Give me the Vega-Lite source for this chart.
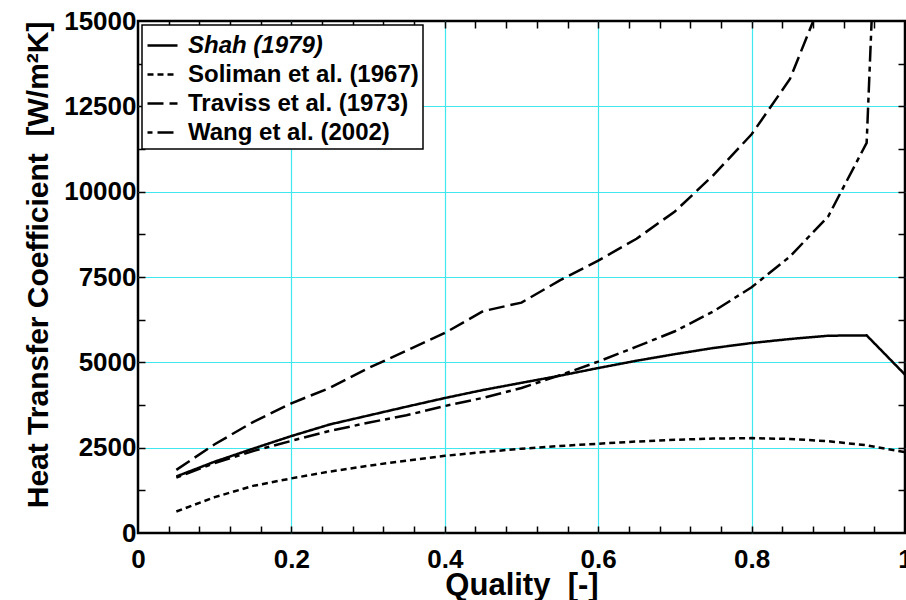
{
  "$schema": "https://vega.github.io/schema/vega-lite/v6.json",
  "width": 767,
  "height": 512,
  "autosize": {"type": "none"},
  "padding": {"left": 138, "top": 21, "right": 1, "bottom": 67},
  "background": "white",
  "config": {
    "view": {"stroke": "black", "strokeWidth": 2.5},
    "font": "Liberation Sans",
    "axis": {
      "labelFont": "Liberation Sans",
      "labelFontWeight": "bold",
      "labelFontSize": 26,
      "labelColor": "black",
      "titleFont": "Liberation Sans",
      "titleFontWeight": "bold",
      "titleFontSize": 31,
      "titleColor": "black",
      "domain": false,
      "tickColor": "black",
      "tickWidth": 1.5,
      "tickSize": 7,
      "gridWidth": 1.2
    }
  },
  "datasets": {
    "curves": [
      {"s": "Shah (1979)", "x": 0.05, "y": 1656},
      {"s": "Shah (1979)", "x": 0.10, "y": 2090},
      {"s": "Shah (1979)", "x": 0.15, "y": 2470},
      {"s": "Shah (1979)", "x": 0.20, "y": 2840},
      {"s": "Shah (1979)", "x": 0.25, "y": 3180},
      {"s": "Shah (1979)", "x": 0.30, "y": 3440},
      {"s": "Shah (1979)", "x": 0.35, "y": 3700},
      {"s": "Shah (1979)", "x": 0.40, "y": 3954},
      {"s": "Shah (1979)", "x": 0.45, "y": 4190},
      {"s": "Shah (1979)", "x": 0.50, "y": 4400},
      {"s": "Shah (1979)", "x": 0.55, "y": 4608},
      {"s": "Shah (1979)", "x": 0.60, "y": 4833},
      {"s": "Shah (1979)", "x": 0.65, "y": 5047},
      {"s": "Shah (1979)", "x": 0.70, "y": 5240},
      {"s": "Shah (1979)", "x": 0.75, "y": 5419},
      {"s": "Shah (1979)", "x": 0.80, "y": 5566},
      {"s": "Shah (1979)", "x": 0.85, "y": 5683},
      {"s": "Shah (1979)", "x": 0.90, "y": 5780},
      {"s": "Shah (1979)", "x": 0.95, "y": 5790},
      {"s": "Shah (1979)", "x": 1.00, "y": 4640},
      {"s": "Soliman et al. (1967)", "x": 0.05, "y": 630},
      {"s": "Soliman et al. (1967)", "x": 0.10, "y": 1050},
      {"s": "Soliman et al. (1967)", "x": 0.15, "y": 1380},
      {"s": "Soliman et al. (1967)", "x": 0.20, "y": 1600},
      {"s": "Soliman et al. (1967)", "x": 0.25, "y": 1800},
      {"s": "Soliman et al. (1967)", "x": 0.30, "y": 1970},
      {"s": "Soliman et al. (1967)", "x": 0.35, "y": 2120},
      {"s": "Soliman et al. (1967)", "x": 0.40, "y": 2260},
      {"s": "Soliman et al. (1967)", "x": 0.45, "y": 2370},
      {"s": "Soliman et al. (1967)", "x": 0.50, "y": 2470},
      {"s": "Soliman et al. (1967)", "x": 0.55, "y": 2550},
      {"s": "Soliman et al. (1967)", "x": 0.60, "y": 2615},
      {"s": "Soliman et al. (1967)", "x": 0.65, "y": 2680},
      {"s": "Soliman et al. (1967)", "x": 0.70, "y": 2730},
      {"s": "Soliman et al. (1967)", "x": 0.75, "y": 2765},
      {"s": "Soliman et al. (1967)", "x": 0.80, "y": 2780},
      {"s": "Soliman et al. (1967)", "x": 0.85, "y": 2755},
      {"s": "Soliman et al. (1967)", "x": 0.90, "y": 2690},
      {"s": "Soliman et al. (1967)", "x": 0.95, "y": 2570},
      {"s": "Soliman et al. (1967)", "x": 1.00, "y": 2370},
      {"s": "Traviss et al. (1973)", "x": 0.05, "y": 1850},
      {"s": "Traviss et al. (1973)", "x": 0.10, "y": 2600},
      {"s": "Traviss et al. (1973)", "x": 0.15, "y": 3250},
      {"s": "Traviss et al. (1973)", "x": 0.20, "y": 3800},
      {"s": "Traviss et al. (1973)", "x": 0.25, "y": 4250},
      {"s": "Traviss et al. (1973)", "x": 0.30, "y": 4830},
      {"s": "Traviss et al. (1973)", "x": 0.35, "y": 5340},
      {"s": "Traviss et al. (1973)", "x": 0.40, "y": 5860},
      {"s": "Traviss et al. (1973)", "x": 0.45, "y": 6500},
      {"s": "Traviss et al. (1973)", "x": 0.50, "y": 6750},
      {"s": "Traviss et al. (1973)", "x": 0.55, "y": 7400},
      {"s": "Traviss et al. (1973)", "x": 0.60, "y": 7980},
      {"s": "Traviss et al. (1973)", "x": 0.65, "y": 8620},
      {"s": "Traviss et al. (1973)", "x": 0.70, "y": 9420},
      {"s": "Traviss et al. (1973)", "x": 0.75, "y": 10480},
      {"s": "Traviss et al. (1973)", "x": 0.80, "y": 11680},
      {"s": "Traviss et al. (1973)", "x": 0.85, "y": 13300},
      {"s": "Traviss et al. (1973)", "x": 0.90, "y": 16100},
      {"s": "Wang et al. (2002)", "x": 0.05, "y": 1620},
      {"s": "Wang et al. (2002)", "x": 0.10, "y": 2050},
      {"s": "Wang et al. (2002)", "x": 0.15, "y": 2400},
      {"s": "Wang et al. (2002)", "x": 0.20, "y": 2700},
      {"s": "Wang et al. (2002)", "x": 0.25, "y": 2990},
      {"s": "Wang et al. (2002)", "x": 0.30, "y": 3230},
      {"s": "Wang et al. (2002)", "x": 0.35, "y": 3450},
      {"s": "Wang et al. (2002)", "x": 0.40, "y": 3720},
      {"s": "Wang et al. (2002)", "x": 0.45, "y": 3960},
      {"s": "Wang et al. (2002)", "x": 0.50, "y": 4250},
      {"s": "Wang et al. (2002)", "x": 0.55, "y": 4620},
      {"s": "Wang et al. (2002)", "x": 0.60, "y": 5020},
      {"s": "Wang et al. (2002)", "x": 0.65, "y": 5460},
      {"s": "Wang et al. (2002)", "x": 0.70, "y": 5910},
      {"s": "Wang et al. (2002)", "x": 0.75, "y": 6490},
      {"s": "Wang et al. (2002)", "x": 0.80, "y": 7200},
      {"s": "Wang et al. (2002)", "x": 0.85, "y": 8100},
      {"s": "Wang et al. (2002)", "x": 0.90, "y": 9280},
      {"s": "Wang et al. (2002)", "x": 0.95, "y": 11430},
      {"s": "Wang et al. (2002)", "x": 1.00, "y": 39000}
    ]
  },
  "data": {"name": "curves"},
  "resolve": {"axis": {"x": "independent", "y": "independent"}},
  "layer": [
    {
      "mark": {"type": "line", "color": "black", "strokeWidth": 2.5, "clip": true},
      "encoding": {
        "x": {
          "field": "x", "type": "quantitative",
          "scale": {"domain": [0, 1], "nice": false},
          "axis": {
            "orient": "bottom",
            "ticks": false,
            "title": "Quality\u00a0\u00a0[-]",
            "titlePadding": -2,
            "labelPadding": 13,
            "values": [0, 0.2, 0.4, 0.6, 0.8, 1],
            "labelExpr": "format(datum.value, '~g')",
            "labelFlush": false,
            "labelOverlap": false,
            "grid": true,
            "gridColor": {"condition": {"test": "datum.value > 0.01 && datum.value < 0.99", "value": "#3ee8ee"}, "value": "rgba(0,0,0,0)"}
          }
        },
        "y": {
          "field": "y", "type": "quantitative",
          "scale": {"domain": [0, 15000], "nice": false},
          "axis": {
            "orient": "left",
            "ticks": false,
            "title": "Heat Transfer Coefficient\u00a0\u00a0[W/m²K]",
            "titleFontSize": 30,
            "titleAnchor": "end",
            "titlePadding": 10,
            "labelPadding": 2,
            "values": [0, 2500, 5000, 7500, 10000, 12500, 15000],
            "labelExpr": "format(datum.value, 'd')",
            "labelOverlap": false,
            "labelFlush": false,
            "grid": true,
            "gridColor": {"condition": {"test": "datum.value > 0 && datum.value < 15000", "value": "#3ee8ee"}, "value": "rgba(0,0,0,0)"}
          }
        },
        "strokeDash": {
          "field": "s", "type": "nominal",
          "scale": {
            "domain": ["Shah (1979)", "Soliman et al. (1967)", "Traviss et al. (1973)", "Wang et al. (2002)"],
            "range": [[1, 0], [6, 4], [16, 6], [5, 5, 16, 5]]
          },
          "legend": {
            "title": null,
            "orient": "top-left",
            "offset": 4,
            "symbolType": "stroke",
            "symbolSize": 900,
            "symbolStrokeWidth": 2.5,
            "symbolStrokeColor": "black",
            "labelFont": "Liberation Sans",
            "labelFontSize": 24,
            "labelFontWeight": "bold",
            "labelColor": "black",
            "labelOffset": 9,
            "labelLimit": 400,
            "rowPadding": 0,
            "padding": 4,
            "strokeColor": "black",
            "fillColor": "white",
            "cornerRadius": 0,
            "encode": {
              "labels": {"update": {"fontStyle": {"signal": "datum.label === 'Shah (1979)' ? 'italic' : 'normal'"}}},
              "legend": {"update": {"strokeWidth": {"value": 1.5}}}
            }
          }
        },
        "detail": {"field": "s"}
      }
    },
    {
      "mark": {"type": "line", "strokeOpacity": 0, "clip": true},
      "encoding": {
        "x": {
          "field": "x", "type": "quantitative",
          "axis": {
            "orient": "bottom", "offset": -7, "title": null, "labels": false, "grid": false,
            "values": [0.04,0.08,0.12,0.16,0.2,0.24,0.28,0.32,0.36,0.4,0.44,0.48,0.52,0.56,0.6,0.64,0.68,0.72,0.76,0.8,0.84,0.88,0.92,0.96]
          }
        },
        "y": {
          "field": "y", "type": "quantitative",
          "axis": {
            "orient": "left", "offset": -7, "title": null, "labels": false, "grid": false,
            "values": [1250,2500,3750,5000,6250,7500,8750,10000,11250,12500,13750]
          }
        },
        "detail": {"field": "s"}
      }
    },
    {
      "mark": {"type": "line", "strokeOpacity": 0, "clip": true},
      "encoding": {
        "x": {
          "field": "x", "type": "quantitative",
          "axis": {
            "orient": "top", "offset": -7, "title": null, "labels": false, "grid": false,
            "values": [0.04,0.08,0.12,0.16,0.2,0.24,0.28,0.32,0.36,0.4,0.44,0.48,0.52,0.56,0.6,0.64,0.68,0.72,0.76,0.8,0.84,0.88,0.92,0.96]
          }
        },
        "y": {
          "field": "y", "type": "quantitative",
          "axis": {
            "orient": "right", "offset": -7, "title": null, "labels": false, "grid": false,
            "values": [1250,2500,3750,5000,6250,7500,8750,10000,11250,12500,13750]
          }
        },
        "detail": {"field": "s"}
      }
    }
  ]
}
